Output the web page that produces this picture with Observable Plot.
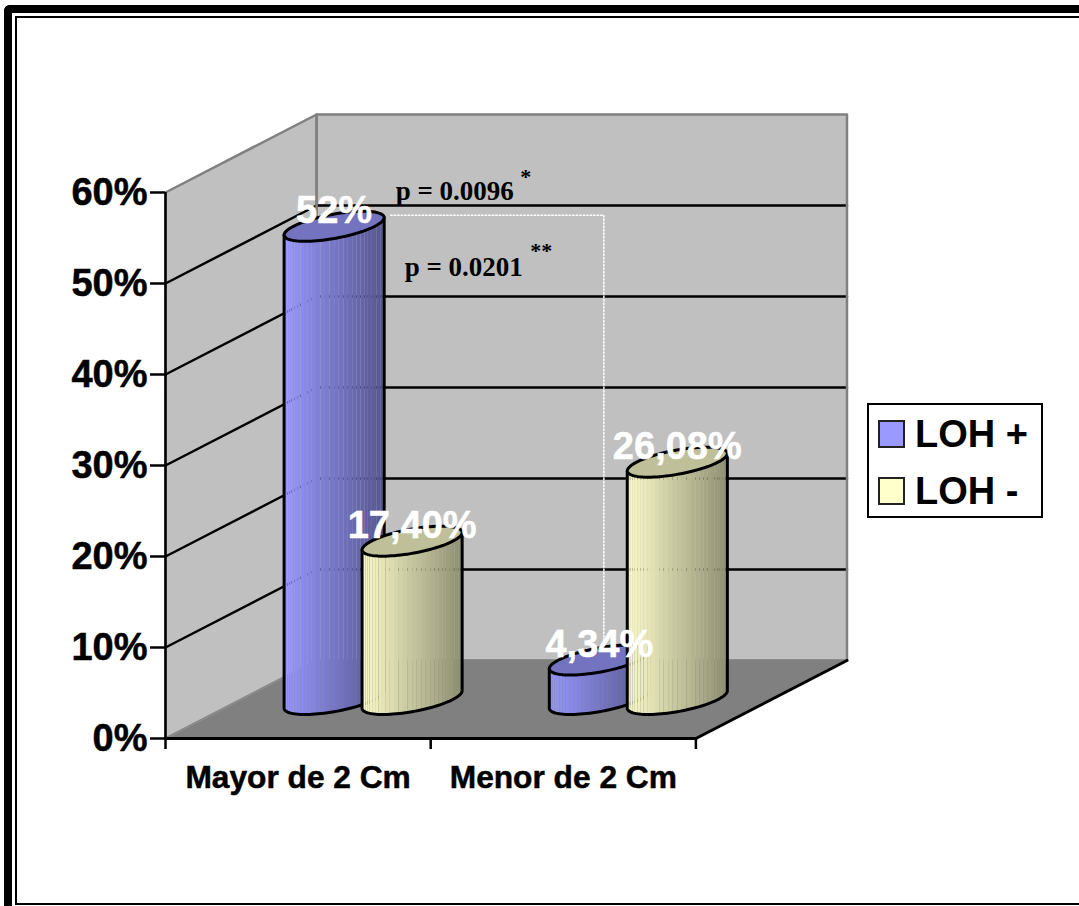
<!DOCTYPE html>
<html>
<head>
<meta charset="utf-8">
<script src="https://cdn.jsdelivr.net/npm/d3@7"></script>
<script src="https://cdn.jsdelivr.net/npm/@observablehq/plot@0.6"></script>
<style>
  html, body { margin: 0; padding: 0; width: 1079px; height: 906px; overflow: hidden; background: #fff; }
  #chart { position: absolute; left: 0; top: 0; }
  #chart svg { display: block; }
  #chart g[aria-label="y-axis tick label"] text, #chart g[aria-label="x-axis tick label"] text { stroke: #000; stroke-width: 0.5px; paint-order: stroke; }
  .outer { position: absolute; left: 4px; top: 5px; width: 1200px; height: 1000px; border: 0 solid #000; border-width: 8px 0 0 8px; border-top-left-radius: 6px; }
  .inner { position: absolute; left: 15px; top: 16px; width: 1200px; height: 885px; border: 2px solid #000; }
  .legend { position: absolute; left: 867px; top: 403px; width: 172px; height: 111px; border: 2px solid #000; background: #fff;
            font: bold 38px "Liberation Sans", Arial, sans-serif; color: #000; }
  .legend div { position: absolute; left: 46px; line-height: 40px; white-space: pre; }
  .legend i { position: absolute; left: -37px; top: 6px; width: 23px; height: 24px; border: 2px solid #222; }
</style>
</head>
<body>
<div class="outer"></div>
<div class="inner"></div>
<div id="chart"></div>
<script>
// Tumour size groups and the share of cases in each LOH group
const categories = ["Mayor de 2 Cm", "Menor de 2 Cm"];
const seriesNames = ["LOH +", "LOH -"];
const seriesColors = ["#9999ff", "#ffffcc"];
const lohPlus = [52, 4.34];
const lohMinus = [17.4, 26.08];
const lohPlusLabels = ["52%", "4,34%"];
const lohMinusLabels = ["17,40%", "26,08%"];
const yTicks = [0, 10, 20, 30, 40, 50, 60];
const yMax = 60;

// Oblique projection: depth 0 is the front of the box, depth 1 the back wall
const depthX = 0.5698;   // category units per full depth
const depthY = 8.57;     // percentage points per full depth
const px = (c, v, d) => c + d * depthX;
const py = (c, v, d) => v + d * depthY;
const pt = (c, v, d) => ({x: px(c, v, d), y: py(c, v, d)});

// Cylinder footprint
const barOffset = 0.147;
const barCentre = 0.498;
const radiusC = 0.1536;
const radiusD = 0.1923;
const tangent = Math.atan2(radiusD * depthX * 265, radiusC * 265);
const rimPoint = (c, v, t) => pt(c + radiusC * Math.cos(t), v, 0.5 + radiusD * Math.sin(t));

const bars = categories.flatMap((cat, i) => [
  {c: i + barCentre - barOffset, v: lohPlus[i], color: seriesColors[0], label: lohPlusLabels[i]},
  {c: i + barCentre + barOffset, v: lohMinus[i], color: seriesColors[1], label: lohMinusLabels[i]}
]);

const shade = (color, k) => {
  const c = d3.rgb(color);
  return d3.rgb(c.r * k, c.g * k, c.b * k).formatRgb();
};

const stripCount = 34;
const stripRows = [];
const outlineRows = [];
const capRows = [];
bars.forEach((b, bi) => {
  for (let s = 0; s < stripCount; ++s) {
    const t0 = tangent - Math.PI + Math.PI * s / stripCount;
    const t1 = tangent - Math.PI + Math.PI * (s + 1) / stripCount;
    const f = (rimPoint(b.c, 0, t0).x - rimPoint(b.c, 0, tangent - Math.PI).x) /
              (rimPoint(b.c, 0, tangent).x - rimPoint(b.c, 0, tangent - Math.PI).x);
    const fill = shade(b.color, 0.98 - 0.43 * f);
    const id = `${bi}-${s}`;
    [[t0, 0], [t1, 0], [t1, b.v], [t0, b.v], [t0, 0]].forEach(([t, v]) =>
      stripRows.push({...rimPoint(b.c, v, t), id, bi, fill}));
  }
  // Silhouette: down the left side, round the front of the base, up the right side
  outlineRows.push({...rimPoint(b.c, b.v, tangent - Math.PI), bi});
  for (let k = 0; k <= 48; ++k)
    outlineRows.push({...rimPoint(b.c, 0, tangent - Math.PI + Math.PI * k / 48), bi});
  outlineRows.push({...rimPoint(b.c, b.v, tangent), bi});
  for (let k = 0; k <= 96; ++k)
    capRows.push({...rimPoint(b.c, b.v, 2 * Math.PI * k / 96), bi, fill: shade(b.color, 0.75)});
});

// Box faces
const backWall = [[0, 0, 1], [2, 0, 1], [2, yMax, 1], [0, yMax, 1], [0, 0, 1]].map(p => pt(...p));
const sideWall = [[0, 0, 0], [0, 0, 1], [0, yMax, 1], [0, yMax, 0], [0, 0, 0]].map(p => pt(...p));
const floor = [[0, 0, 0], [2, 0, 0], [2, 0, 1], [0, 0, 1], [0, 0, 0]].map(p => pt(...p));
const floorFront = [[0, 0, 0], [2, 0, 0], [2, 0, 1]].map(p => pt(...p));
const gridRows = yTicks.filter(v => v > 0 && v < yMax)
  .flatMap(v => [[0, v, 0], [0, v, 1], [2, v, 1]].map(p => ({...pt(...p), v})));

// Significance bracket and its annotations
const bracket = [{x: 0.849, y: 57.5}, {x: 1.653, y: 57.5}, {x: 1.653, y: 10.8}];
const notes = [
  {x: 0.868, y: 60.1, text: "p = 0.0096", size: 27},
  {x: 0.902, y: 51.8, text: "p = 0.0201", size: 27},
  {x: 1.338, y: 61.7, text: "*", size: 22},
  {x: 1.375, y: 53.6, text: "**", size: 22}
];

const font = '"Liberation Sans", Arial, sans-serif';
const line = (rows, o) => Plot.line(rows, {x: "x", y: "y", ...o});

const chart = Plot.plot({
  width: 1079,
  height: 906,
  marginLeft: 165,
  marginRight: 232.5,
  marginTop: 114,
  marginBottom: 168,
  style: {background: "transparent", overflow: "visible"},
  x: {domain: [0, 2 + depthX], axis: null},
  y: {domain: [0, yMax + depthY], axis: null},
  color: {type: "identity"},
  marks: [
    line(backWall, {fill: "#c0c0c0"}),
    line(sideWall, {fill: "#c0c0c0", stroke: "#808080", strokeWidth: 2.5}),
    line(floor, {fill: "#808080", stroke: "#8c8c8c", strokeWidth: 1.5}),
    line(gridRows, {z: "v", stroke: "#000", strokeWidth: 2.5}),
    line(backWall, {stroke: "#808080", strokeWidth: 2.5}),
    line(floorFront, {stroke: "#000", strokeWidth: 3}),
    line(bracket, {stroke: "#fff", strokeWidth: 1.5, strokeDasharray: "1.5 2"}),
    Plot.text(notes, {x: "x", y: "y", text: "text", fontSize: "size", textAnchor: "start",
      fontFamily: '"Liberation Serif", "Times New Roman", serif', fontWeight: "bold", fill: "#000"}),
    ...bars.flatMap((b, bi) => [
      line(stripRows.filter(d => d.bi === bi), {z: "id", fill: "fill", stroke: "none"}),
      line(outlineRows.filter(d => d.bi === bi), {stroke: "#000", strokeWidth: 3}),
      line(capRows.filter(d => d.bi === bi), {fill: "fill", stroke: "#000", strokeWidth: 3})
    ]),
    Plot.text(bars, {x: d => px(d.c, d.v, 0.5), y: d => py(d.c, d.v, 0.5), text: "label", dy: -15.5,
      fill: "#fff", stroke: "#fff", strokeWidth: 0.5, fontSize: 38, fontWeight: "bold", fontFamily: font}),
    Plot.axisY({anchor: "left", ticks: yTicks, tickFormat: d => d + "%", tickSize: 15, tickPadding: 3, label: null,
      fontSize: 38, fontWeight: "bold", fontFamily: font, strokeWidth: 2.5, color: "#000"}),
    Plot.ruleX([0], {y1: 0, y2: yMax, stroke: "#000", strokeWidth: 2.5}),
    Plot.axisX({anchor: "bottom", ticks: [0, 1, 2], tickFormat: () => "", tickSize: 11, strokeWidth: 2.5, label: null, color: "#000"}),
    Plot.axisX({anchor: "bottom", ticks: [0.5, 1.5], tickFormat: d => categories[Math.floor(d)], tickSize: 0, tickPadding: 27,
      fontSize: 31.7, fontWeight: "bold", fontFamily: font, label: null, color: "#000"})
  ]
});
document.getElementById("chart").append(chart);

// Series key beside the box
const legend = document.createElement("div");
legend.className = "legend";
seriesNames.forEach((name, i) => {
  const row = document.createElement("div");
  row.style.top = `${9 + i * 57}px`;
  row.textContent = name;
  const swatch = document.createElement("i");
  swatch.style.background = seriesColors[i];
  row.prepend(swatch);
  legend.append(row);
});
document.body.append(legend);
</script>
</body>
</html>
